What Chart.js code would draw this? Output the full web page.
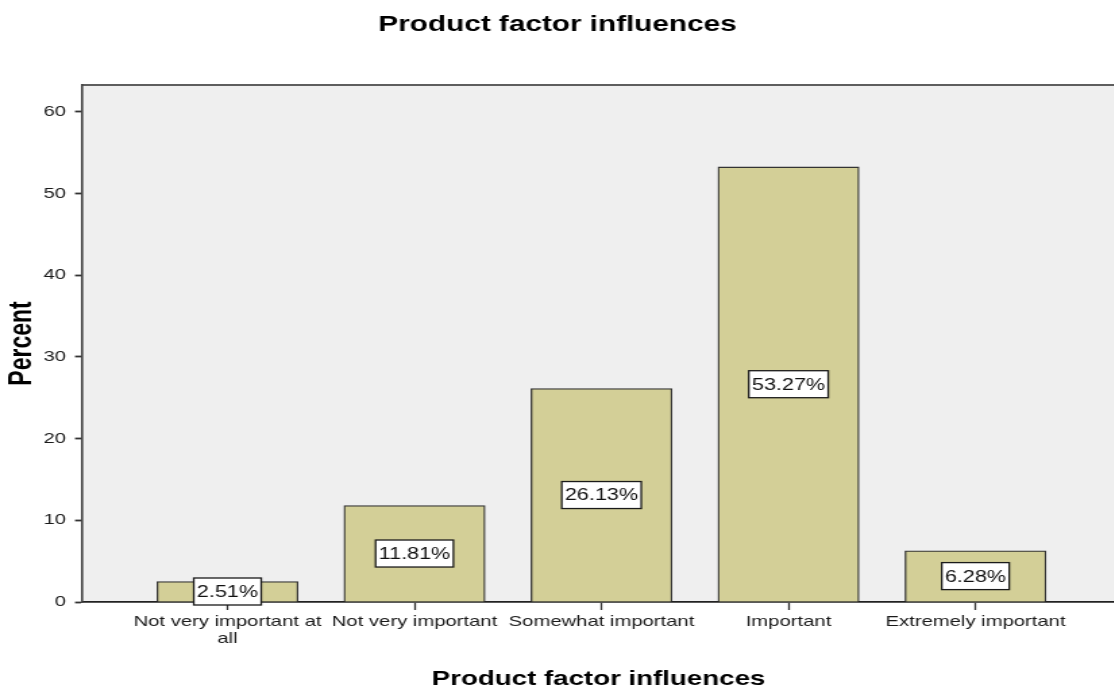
<!DOCTYPE html>
<html>
<head>
<meta charset="utf-8">
<title>Product factor influences</title>
<script src="https://cdn.jsdelivr.net/npm/chart.js@4/dist/chart.umd.min.js"></script>
<style>
  html, body { margin: 0; padding: 0; background: #ffffff; overflow: hidden; }
  body { width: 1114px; height: 686px; }
  #chart { display: block; }
</style>
</head>
<body>
<!-- the drawing is rendered narrow and widened horizontally -->
<canvas id="chart" width="826" height="700" style="width:1115px;height:700px"></canvas>
<script>
// Chart content
const categories = [
  'Not very important at all',
  'Not very important',
  'Somewhat important',
  'Important',
  'Extremely important'
];
const tickLabels = [
  ['Not very important at', 'all'],
  'Not very important',
  'Somewhat important',
  'Important',
  'Extremely important'
];
const percents = [2.51, 11.81, 26.13, 53.27, 6.28];
const yTicks = [0, 10, 20, 30, 40, 50, 60];

const FONT = "'Liberation Sans', Arial, Helvetica, sans-serif";

// light grey plot background plus a frame line along the top
const plotFrame = {
  id: 'plotFrame',
  beforeDraw(chart) {
    const { ctx, chartArea: a } = chart;
    ctx.save();
    ctx.fillStyle = '#efefef';
    ctx.fillRect(a.left, a.top, a.right - a.left, a.bottom - a.top);
    ctx.strokeStyle = '#5e5e5e';
    ctx.lineWidth = 2;
    ctx.beginPath();
    ctx.moveTo(a.left, a.top);
    ctx.lineTo(a.right, a.top);
    ctx.stroke();
    ctx.restore();
  }
};

// boxed percentage label in the middle of each bar
const barLabels = {
  id: 'barLabels',
  afterDatasetsDraw(chart) {
    const { ctx } = chart;
    const meta = chart.getDatasetMeta(0);
    ctx.save();
    ctx.font = '16px ' + FONT;
    ctx.textAlign = 'center';
    ctx.textBaseline = 'middle';
    meta.data.forEach((bar, i) => {
      const text = percents[i].toFixed(2) + '%';
      const w = ctx.measureText(text).width + 4.6;
      const h = 27;
      const cy = (bar.y + bar.base) / 2;
      ctx.fillStyle = '#ffffff';
      ctx.fillRect(bar.x - w / 2, cy - h / 2, w, h);
      ctx.strokeStyle = '#1a1a1a';
      ctx.lineWidth = 1.3;
      ctx.strokeRect(bar.x - w / 2, cy - h / 2, w, h);
      ctx.fillStyle = '#111111';
      ctx.fillText(text, bar.x, cy + 1);
    });
    ctx.restore();
  }
};

new Chart(document.getElementById('chart'), {
  type: 'bar',
  data: {
    labels: categories,
    datasets: [{
      label: 'Percent',
      data: percents.map((v, i) => ({ x: i + 1, y: v })),
      backgroundColor: '#d3cf97',
      borderColor: '#333333',
      borderWidth: 1.3,
      barThickness: 104.45
    }]
  },
  options: {
    responsive: false,
    animation: false,
    devicePixelRatio: 1,
    layout: { padding: 0 },
    plugins: {
      legend: { display: false },
      tooltip: { enabled: false },
      title: {
        display: true,
        text: 'Product factor influences',
        color: '#000000',
        font: { family: FONT, size: 22, weight: 'bold', lineHeight: 1.2 },
        padding: { top: 11.3, bottom: 47.3 }
      }
    },
    scales: {
      x: {
        type: 'linear',
        offset: false,
        min: 0.222,
        max: 5.746,
        afterBuildTicks(scale) {
          scale.ticks = categories.map((_, i) => ({ value: i + 1 }));
        },
        afterFit(scale) { scale.height = 98; },
        ticks: {
          autoSkip: false,
          maxRotation: 0,
          color: '#1a1a1a',
          padding: 4,
          font: { family: FONT, size: 15, lineHeight: 1.1 },
          callback: (value) => tickLabels[value - 1]
        },
        grid: {
          offset: false,
          drawOnChartArea: false,
          drawTicks: true,
          tickLength: 8,
          tickColor: '#333333',
          tickWidth: 1.3
        },
        border: { display: true, color: '#222222', width: 1.8 },
        title: {
          display: true,
          text: 'Product factor influences',
          color: '#000000',
          font: { family: FONT, size: 20.5, weight: 'bold', lineHeight: 1.2 },
          padding: { top: 0, bottom: 8.7 }
        }
      },
      y: {
        min: 0,
        max: 63.3,
        afterBuildTicks(scale) {
          scale.ticks = yTicks.map(v => ({ value: v }));
        },
        afterFit(scale) { scale.width = 60.75; },
        ticks: {
          color: '#1a1a1a',
          padding: 6.67,
          font: { family: FONT, size: 15 }
        },
        grid: {
          drawOnChartArea: false,
          drawTicks: true,
          tickLength: 5.19,
          tickColor: '#333333',
          tickWidth: 1.8
        },
        border: { display: true, color: '#444444', width: 1.6 },
        title: {
          display: true,
          text: 'Percent',
          color: '#000000',
          font: { family: FONT, size: 23, weight: 'bold', lineHeight: 1.2 },
          padding: { top: 2.5, bottom: 0 }
        }
      }
    }
  },
  plugins: [plotFrame, barLabels]
});
</script>
</body>
</html>
